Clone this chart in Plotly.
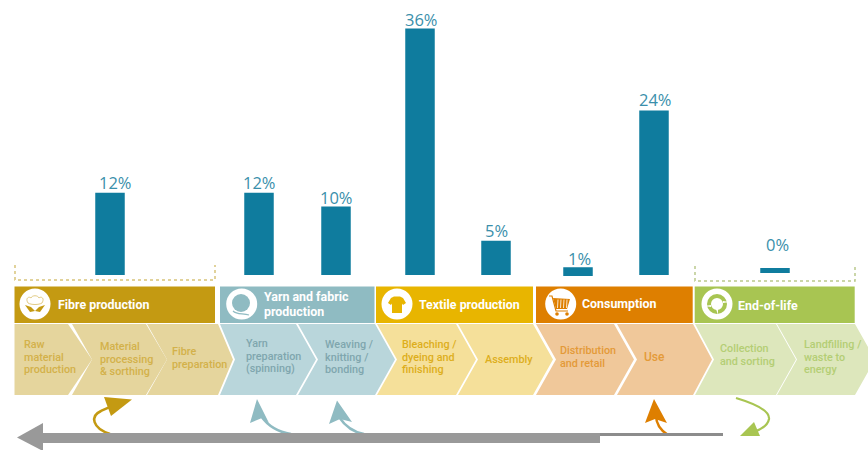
import plotly.graph_objects as go

WIDTH, HEIGHT = 868, 450

# Share of impact per life-cycle step
steps = ["Fibre", "Yarn preparation", "Fabric forming", "Finishing", "Assembly",
         "Distribution", "Use", "End-of-life"]
shares = [12, 12, 10, 36, 5, 1, 24, 0]
bar_centres = [110, 259, 336, 420, 496, 578, 654, 775]
label_shift_x = [5, 0, 0, 1, 0, 1, 1, 2]
label_shift_y = [10, 10, 9, 9, 10, 10, 11, 31]

# Bars sit on a baseline 275 px down, at 6.85 px per percentage point
PX_PER_POINT = 6.85
BASELINE = 275
BAR_TEAL = "#0F7C9E"
LABEL_TEAL = "#3A8FAB"

stage_names = [["Fibre production"], ["Yarn and fabric", "production"], ["Textile production"],
               ["Consumption"], ["End-of-life"]]
stage_boxes = [(14.5, 215), (220, 374.5), (376, 533), (536, 692.7), (694.7, 854.7)]
stage_text_x = [56.5, 263, 417.5, 581, 737]
stage_text_y = [304, 304, 304, 303, 305]
stage_colours = ["#C49A12", "#8FBBC2", "#E8B500", "#DE7F00", "#A8C552"]
stage_icon_x = [35, 241.7, 397, 560.7, 717]

# left-top, notch, right-top, tip for each chevron
chevrons = [
    (14.5, None, 68, 92, "#E5D59D"), (72, 92, 146, 167, "#E5D59D"), (147, 167, 218, 233, "#E5D59D"),
    (220, 235, 296, 316, "#B9D6DB"), (298, 318, 375, 395, "#B9D6DB"),
    (377, 397, 456, 476, "#F5E09A"), (458, 478, 533, 553, "#F5E09A"),
    (536, 556, 614, 634, "#F0C89A"), (617, 637, 693, 712, "#F0C89A"),
    (695, 714, 776, 796, "#DDE7BC"), (777, 797, 855, 875, "#DDE7BC"),
]
chevron_labels = [
    (["Raw", "material", "production"], 22.5, 357, "#D3B14A", 10.8),
    (["Material", "processing", "& sorthing"], 98.5, 359, "#D3B14A", 10.8),
    (["Fibre", "preparation"], 170.5, 358, "#D3B14A", 10.8),
    (["Yarn", "preparation", "(spinning)"], 244.5, 356, "#7FA6AE", 10.8),
    (["Weaving /", "knitting /", "bonding"], 323.5, 357, "#7FA6AE", 10.8),
    (["Bleaching /", "dyeing and", "finishing"], 400.5, 357, "#DDAE1C", 10.8),
    (["Assembly"], 483.5, 359, "#DDAE1C", 10.8),
    (["Distribution", "and retail"], 558.5, 357, "#E49A38", 10.8),
    (["Use"], 642.5, 357, "#E49A38", 12),
    (["Collection", "and sorting"], 718.5, 355, "#B4CE74", 10.8),
    (["Landfilling /", "waste to", "energy"], 802.5, 357, "#B4CE74", 10.8),
]


def px(x):
    return x / WIDTH


def py(y):
    return 1 - y / HEIGHT


def path(points, close=True):
    d = "M " + " L ".join(f"{px(x):.5f} {py(y):.5f}" for x, y in points)
    return d + (" Z" if close else "")


def curve(start, *segments):
    d = f"M {px(start[0]):.5f} {py(start[1]):.5f}"
    for c1, c2, end in segments:
        d += " C " + " ".join(f"{px(x):.5f} {py(y):.5f}" for x, y in (c1, c2, end))
    return d


shapes = []
annotations = []


def filled(points, colour):
    shapes.append(dict(type="path", xref="paper", yref="paper", path=path(points),
                       fillcolor=colour, line_width=0))


def rect(x0, y0, x1, y1, colour):
    shapes.append(dict(type="rect", xref="paper", yref="paper", x0=px(x0), x1=px(x1),
                       y0=py(y0), y1=py(y1), fillcolor=colour, line_width=0))


def disc(cx, cy, r, colour):
    shapes.append(dict(type="circle", xref="paper", yref="paper", x0=px(cx - r), x1=px(cx + r),
                       y0=py(cy - r), y1=py(cy + r), fillcolor=colour, line_width=0))


def stroke(d, colour, width, dash="solid"):
    shapes.append(dict(type="path", xref="paper", yref="paper", path=d,
                       line=dict(color=colour, width=width, dash=dash)))


def text_block(lines, x, yc, colour, size, line_h, weight=500):
    top = yc - line_h * (len(lines) - 1) / 2
    for i, line in enumerate(lines):
        annotations.append(dict(xref="paper", yref="paper", x=px(x), y=py(top + i * line_h),
                                xanchor="left", yanchor="middle", text=line, showarrow=False,
                                borderpad=0, font=dict(family="Roboto", size=size, color=colour,
                                                       weight=weight)))


# Dotted brackets over the fibre and end-of-life stages
stroke(path([(15, 265), (15, 280), (215, 280), (215, 265)], close=False), "#D8C47A", 1.5, "dot")
stroke(path([(695, 266), (695, 281), (855, 281), (855, 266)], close=False), "#BAC98C", 1.5, "dot")

# Stage header bands
for (x0, x1), colour, name, tx, ty, ix in zip(stage_boxes, stage_colours, stage_names,
                                              stage_text_x, stage_text_y, stage_icon_x):
    rect(x0, 286.5, x1, 323, colour)
    disc(ix, 304, 15.5, "white")
    text_block(name, tx, ty, "#FFFFFF", 12.4, 14.6, weight=700)

# Icon glyphs
gold, teal, yellow, orange, green = stage_colours
# cotton boll over two leaves
stroke(curve((28, 303), ((25, 298), (29, 296), (31, 298)), ((32, 295), (38, 295), (39, 298)),
             ((41, 296), (45, 298), (42, 303))), "#D9BE66", 0.8)
stroke(curve((28, 303), ((31, 305), (39, 305), (42, 303))), "#D9BE66", 0.8)
filled([(25, 305), (31, 307), (35, 311), (30, 312)], gold)
filled([(45, 305), (39, 307), (35, 311), (40, 312)], gold)
# ball of yarn with a loose end
disc(241, 303, 9, teal)
stroke(curve((233, 311), ((237, 315), (243, 313), (249, 315))), teal, 1.1)
# t-shirt
filled([(391, 298), (394, 296.5), (400, 296.5), (403, 298), (406, 303), (403, 305), (402, 303.5),
        (402, 313), (392, 313), (392, 303.5), (391, 305), (388, 303)], yellow)
# shopping cart
filled([(553, 298), (570, 299), (567, 309), (556, 309)], orange)
for bar_x in (558, 561, 564, 567):
    stroke(path([(bar_x, 299.5), (bar_x - 0.5, 308)], close=False), "white", 0.8)
stroke(path([(549, 296), (552, 296), (556, 311), (568, 311)], close=False), orange, 1.2)
disc(557, 314, 1.8, orange)
disc(567, 314, 1.8, orange)
# recycling ring with three gaps
shapes.append(dict(type="circle", xref="paper", yref="paper", x0=px(709), x1=px(725),
                   y0=py(312), y1=py(296), fillcolor="rgba(0,0,0,0)",
                   line=dict(color=green, width=4)))
filled([(705, 306), (711, 305), (711, 307)], "white")
filled([(729, 302), (723, 301), (723, 303)], "white")
filled([(718, 315), (716, 309), (718, 309)], "white")

# Chevron row
TOP, BOTTOM, MID = 324, 395, 359.5
for left, notch, right, tip, colour in chevrons:
    if notch is None:
        pts = [(left, TOP), (right, TOP), (tip, MID), (right, BOTTOM), (left, BOTTOM)]
    else:
        pts = [(left, TOP), (right, TOP), (tip, MID), (right, BOTTOM), (left, BOTTOM), (notch, MID)]
    filled(pts, colour)
for lines, x, yc, colour, size in chevron_labels:
    text_block(lines, x, yc, colour, size, 12.9)

# Curved arrows under the chevrons
stroke(curve((110, 434), ((92, 428), (90, 416), (101, 411)), ((105, 409), (109, 407), (116, 405))),
       gold, 2.5)
filled([(132, 399.5), (104, 397), (111, 416)], gold)
stroke(curve((291, 434), ((278, 432), (268, 426), (261, 416))), teal, 2.5)
filled([(257, 399), (250, 423), (262, 418), (269, 423)], teal)
stroke(curve((364, 434), ((352, 432), (345, 426), (339, 417))), teal, 2.5)
filled([(337, 400.5), (329, 424), (340, 419), (352, 422)], teal)
stroke(curve((668, 435), ((660, 430), (656, 424), (656, 415))), orange, 2.5)
filled([(654, 399), (645, 423), (655, 419), (667, 423)], orange)
stroke(curve((736, 398), ((756, 404), (770, 411), (769, 419)), ((768, 425), (762, 429), (754, 432))),
       green, 2.2)
filled([(740, 436), (754, 422), (760, 436)], green)

# Grey life-cycle arrow along the bottom
filled([(17, 437.5), (43, 423), (43, 450), (41, 450)], "#999999")
rect(43, 433, 600, 443, "#999999")
rect(600, 433, 723, 436, "#8C8C8C")

# Value labels hang off each bar's own value
for centre, value, dx, dy in zip(bar_centres, shares, label_shift_x, label_shift_y):
    annotations.append(dict(x=centre, y=value, xref="x", yref="y", text=f"{value}%",
                            showarrow=False, xanchor="center", yanchor="middle",
                            xshift=dx, yshift=dy, borderpad=0,
                            font=dict(family="Open Sans", size=16.5, color=LABEL_TEAL)))

# The two thinnest bars get an outline so they stay visible
fig = go.Figure(go.Bar(
    x=bar_centres,
    y=shares,
    base=[0, 0, 0, 0, 0, 0, 0, 0.66],
    width=[29.5, 29.5, 29.5, 29.5, 29.5, 27.5, 29.5, 29.5],
    marker=dict(color=BAR_TEAL,
                line=dict(color=BAR_TEAL, width=[0, 0, 0, 0, 0, 2, 0, 5])),
    customdata=steps,
    hovertemplate="%{customdata}: %{y}%<extra></extra>",
))

fig.update_layout(
    width=WIDTH, height=HEIGHT,
    margin=dict(l=0, r=0, t=0, b=0),
    paper_bgcolor="white", plot_bgcolor="white",
    showlegend=False,
    shapes=shapes,
    annotations=annotations,
    xaxis=dict(range=[0, WIDTH], visible=False, fixedrange=True),
    yaxis=dict(range=[-(HEIGHT - BASELINE) / PX_PER_POINT, BASELINE / PX_PER_POINT],
               visible=False, fixedrange=True),
)

fig.write_html("out.html")
